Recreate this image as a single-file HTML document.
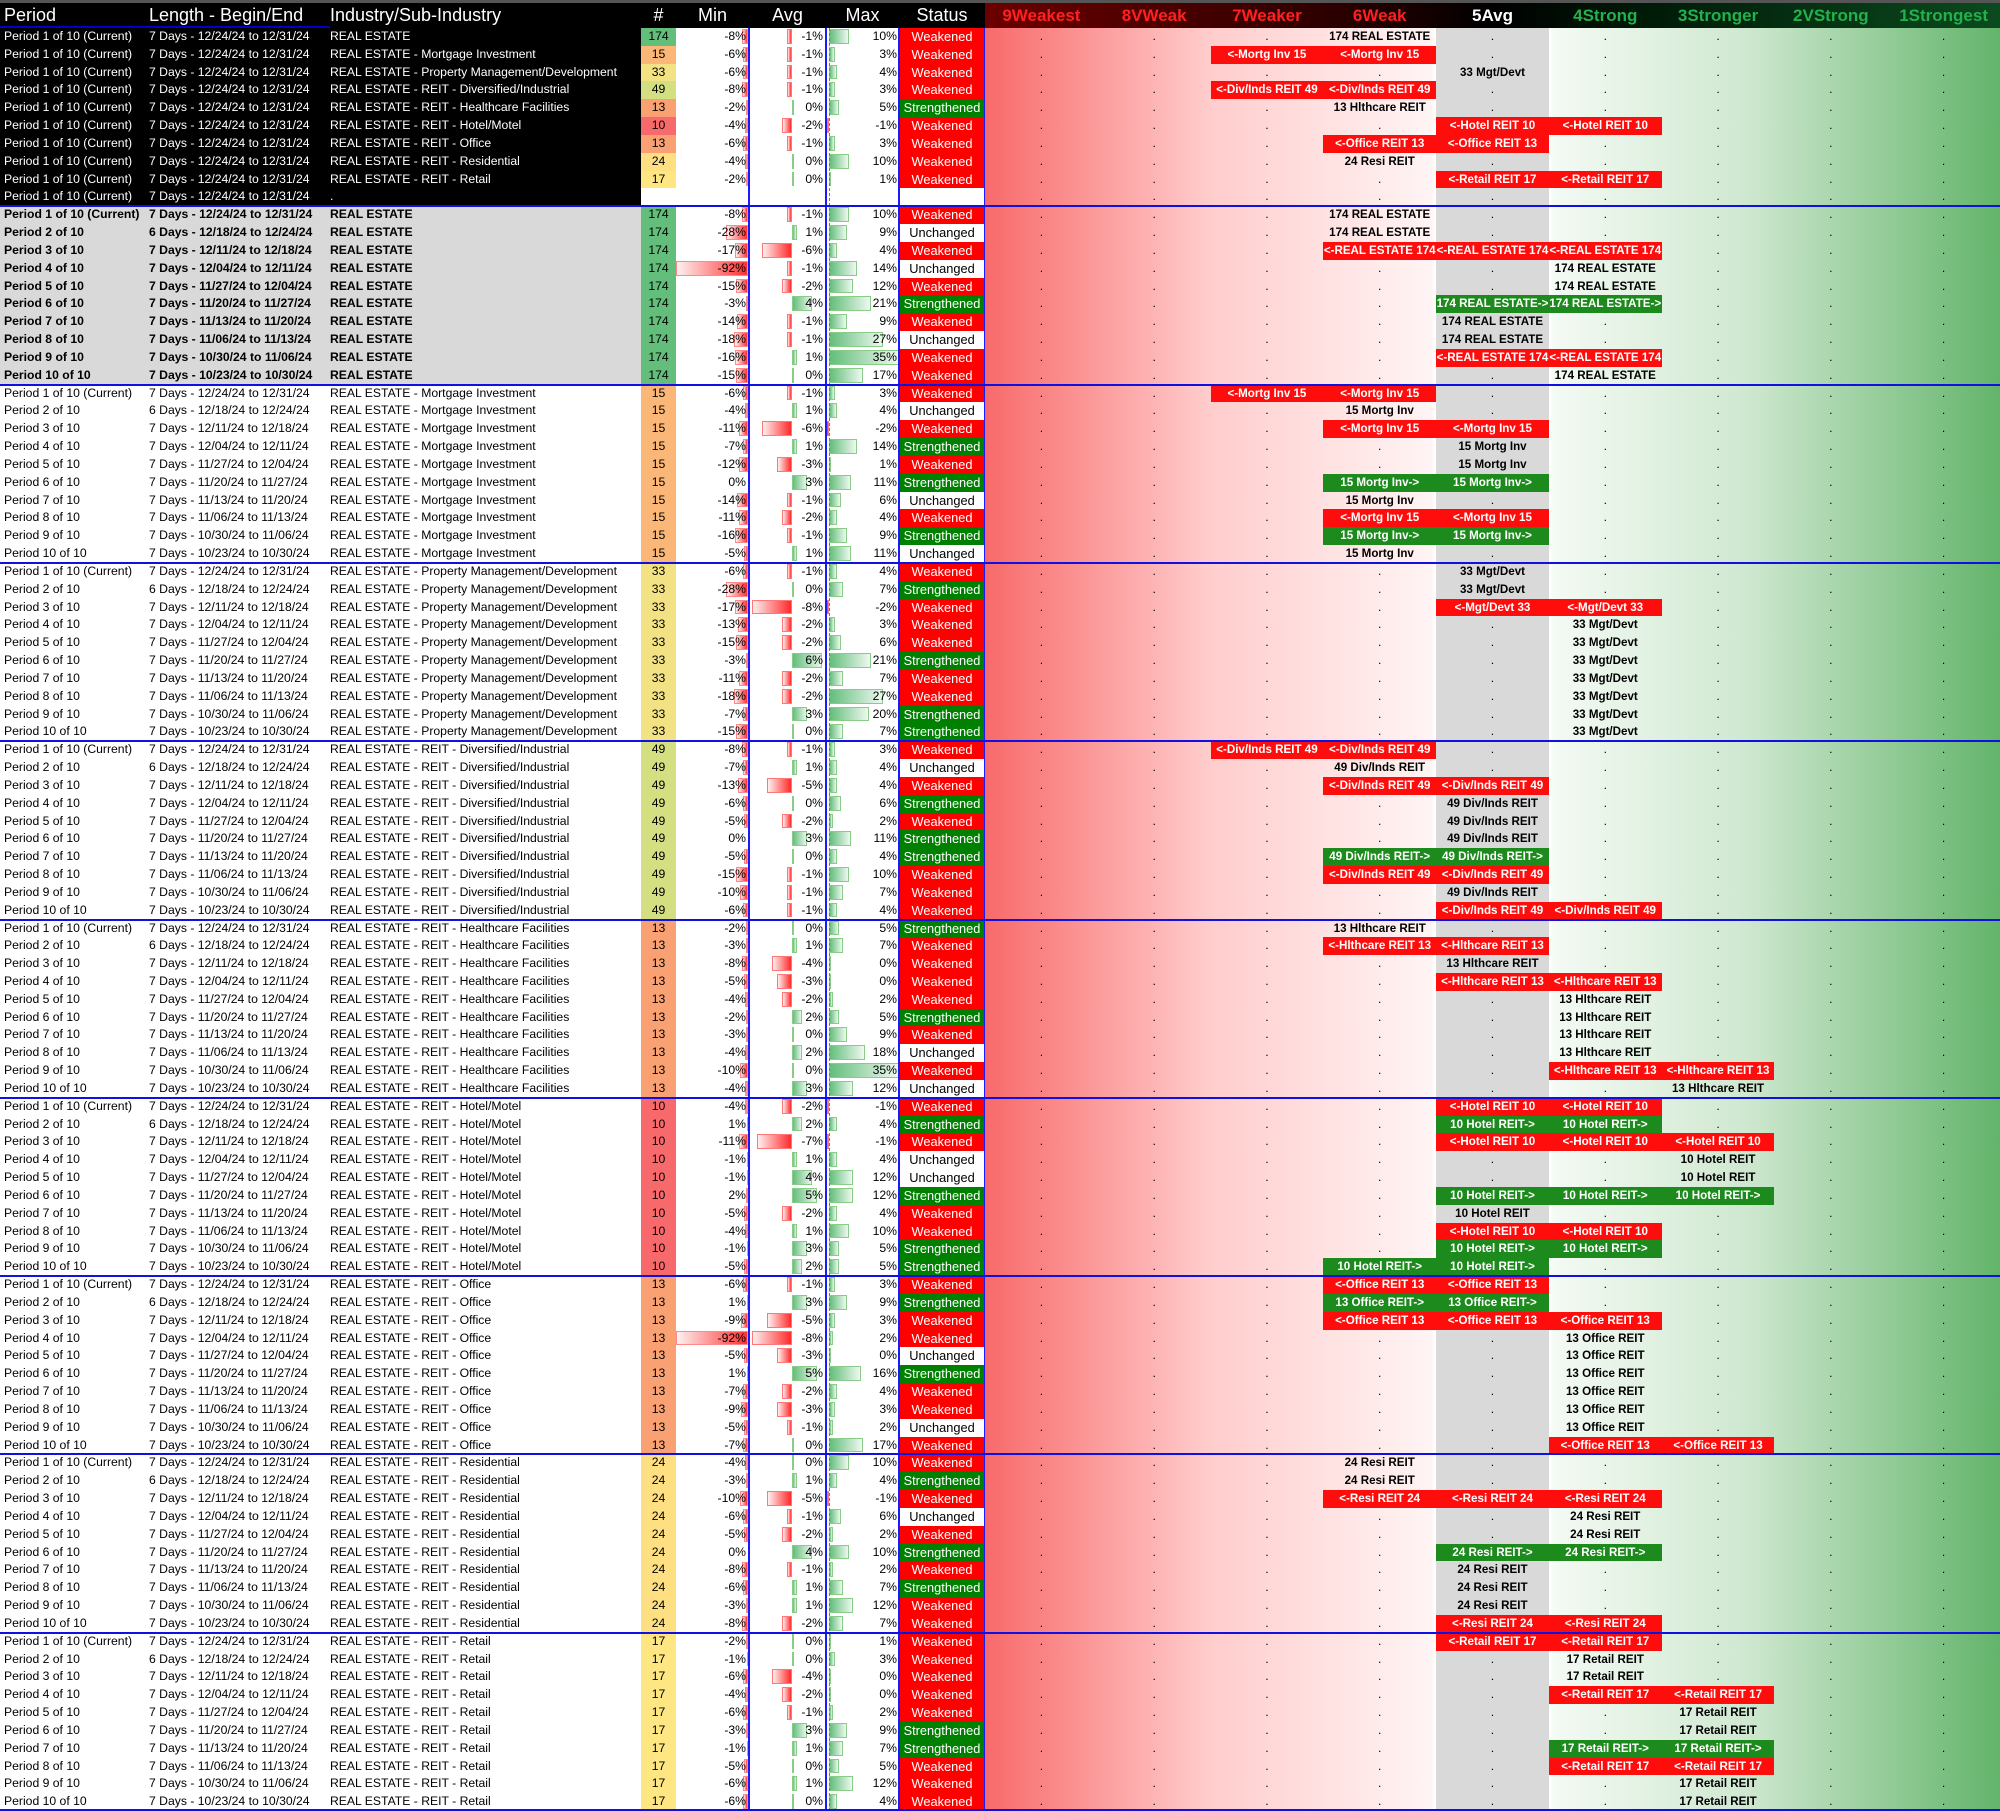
<!DOCTYPE html>
<html><head><meta charset="utf-8">
<style>
html,body{margin:0;padding:0;background:#000;}
#root{position:relative;width:2000px;height:1811px;overflow:hidden;background:#fff;font-family:"Liberation Sans",sans-serif;}
.c{position:absolute;font-size:12.2px;line-height:17.8px;white-space:nowrap;}
.h{position:absolute;top:3px;height:25px;line-height:25px;font-size:18px;color:#fff;white-space:nowrap;}
.rh{font-weight:bold;font-size:17px;text-align:center;}
</style></head>
<body>
<div id="root"></div>
<script>
const periodLabels=["Period 1 of 10 (Current)","Period 2 of 10","Period 3 of 10","Period 4 of 10","Period 5 of 10","Period 6 of 10","Period 7 of 10","Period 8 of 10","Period 9 of 10","Period 10 of 10"];
const lengthLabels=["7 Days - 12/24/24 to 12/31/24","6 Days - 12/18/24 to 12/24/24","7 Days - 12/11/24 to 12/18/24","7 Days - 12/04/24 to 12/11/24","7 Days - 11/27/24 to 12/04/24","7 Days - 11/20/24 to 11/27/24","7 Days - 11/13/24 to 11/20/24","7 Days - 11/06/24 to 11/13/24","7 Days - 10/30/24 to 11/06/24","7 Days - 10/23/24 to 10/30/24"];
const industries=["REAL ESTATE","REAL ESTATE - Mortgage Investment","REAL ESTATE - Property Management/Development","REAL ESTATE - REIT - Diversified/Industrial","REAL ESTATE - REIT - Healthcare Facilities","REAL ESTATE - REIT - Hotel/Motel","REAL ESTATE - REIT - Office","REAL ESTATE - REIT - Residential","REAL ESTATE - REIT - Retail"];
const counts=[174,15,33,49,13,10,13,24,17];
const countColors=["#63be7b","#fbb778","#f2e283","#d4df82","#f9a172","#f8696b","#f9a172","#fedf81","#fee683"];
const shortNames=["REAL ESTATE","Mortg Inv","Mgt/Devt","Div/Inds REIT","Hlthcare REIT","Hotel REIT","Office REIT","Resi REIT","Retail REIT"];
const ratingHeaders=["9Weakest","8VWeak","7Weaker","6Weak","5Avg","4Strong","3Stronger","2VStrong","1Strongest"];
const topMin=[-8,-6,-6,-8,-2,-4,-6,-4,-2];
const topAvg=[-1,-1,-1,-1,0,-2,-1,0,0];
const topMax=[10,3,4,3,5,-1,3,10,1];
const topStatus=["W","W","W","W","S","W","W","W","W"];
const topRating=["P3","R23","P4","R23","P3","R45","R34","P3","R45"];
const minVals=[
[-8,-28,-17,-92,-15,-3,-14,-18,-16,-15],
[-6,-4,-11,-7,-12,0,-14,-11,-16,-5],
[-6,-28,-17,-13,-15,-3,-11,-18,-7,-15],
[-8,-7,-13,-6,-5,0,-5,-15,-10,-6],
[-2,-3,-8,-5,-4,-2,-3,-4,-10,-4],
[-4,1,-11,-1,-1,2,-5,-4,-1,-5],
[-6,1,-9,-92,-5,1,-7,-9,-5,-7],
[-4,-3,-10,-6,-5,0,-8,-6,-3,-8],
[-2,-1,-6,-4,-6,-3,-1,-5,-6,-6]];
const avgVals=[
[-1,1,-6,-1,-2,4,-1,-1,1,0],
[-1,1,-6,1,-3,3,-1,-2,-1,1],
[-1,0,-8,-2,-2,6,-2,-2,3,0],
[-1,1,-5,0,-2,3,0,-1,-1,-1],
[0,1,-4,-3,-2,2,0,2,0,3],
[-2,2,-7,1,4,5,-2,1,3,2],
[-1,3,-5,-8,-3,5,-2,-3,-1,0],
[0,1,-5,-1,-2,4,-1,1,1,-2],
[0,0,-4,-2,-1,3,1,0,1,0]];
const maxVals=[
[10,9,4,14,12,21,9,27,35,17],
[3,4,-2,14,1,11,6,4,9,11],
[4,7,-2,3,6,21,7,27,20,7],
[3,4,4,6,2,11,4,10,7,4],
[5,7,0,0,2,5,9,18,35,12],
[-1,4,-1,4,12,12,4,10,5,5],
[3,9,3,2,0,16,4,3,2,17],
[10,4,-1,6,2,10,2,7,12,7],
[1,3,0,0,2,9,7,5,12,4]];
const statusVals=[
"WUWUWSWUWW","WUWSWSUWSU","WSWWWSWWSS","WUWSWSSWWW","SWWWWSWUWU","WSWUUSWWSS","WSWWUSWWUW","WSWUWSWSWW","WWWWWSSWWW"];
const ratingVals=[
["P3","P3","R345","P5","P5","G45","P4","P4","R45","P5"],
["R23","P3","R34","P4","P4","G34","P3","R34","G34","P3"],
["P4","P4","R45","P5","P5","P5","P5","P5","P5","P5"],
["R23","P3","R34","P4","P4","P4","G34","R34","P4","R45"],
["P3","R34","P4","R45","P5","P5","P5","P5","R56","P6"],
["R45","G45","R456","P6","P6","G456","P4","R45","G45","G34"],
["R34","G34","R345","P5","P5","P5","P5","P5","P5","R56"],
["P3","P3","R345","P5","P5","G45","P4","P4","P4","R45"],
["R45","P5","P5","R56","P6","P6","G56","R56","P6","P6"]];

const root=document.getElementById('root');
const RH=17.83, Y0=28;
const RX=985, RW=(2000-985)/9;
function el(tag,cls,style,text,parent){const e=document.createElement(tag);if(cls)e.className=cls;e.style.cssText=style;if(text!==undefined)e.textContent=text;(parent||root).appendChild(e);return e;}
function rowY(i){return Y0+i*RH;}

const bg=el('div','', `position:absolute;left:${RX}px;top:${Y0}px;width:${2000-RX}px;height:${1811-Y0}px;background:linear-gradient(90deg,#f86a6a 0%,#fcc 22%,#fff4f4 44%,#fff 44.4%,#fff 55.6%,#f4faf4 56%,#cfe8d0 75%,#63b46b 100%);`);


const band=el('div','',`position:absolute;left:${RX+4*RW}px;top:${Y0}px;width:${RW}px;height:${1811-Y0}px;background:#d9d9d9;`);


const hdr=el('div','',`position:absolute;left:0;top:0;width:2000px;height:28px;background:#000;border-top:3px solid #555;box-sizing:border-box;`);


const rhb=el('div','',`position:absolute;left:${RX}px;top:3px;width:${2000-RX}px;height:25px;background:linear-gradient(90deg,#6b0000 0%,#2a0000 35%,#000 50%,#001a08 65%,#0b4a1e 100%);`);


const heads=[["Period",4],["Length - Begin/End",149],["Industry/Sub-Industry",330]];
heads.forEach(h=>{const e=el('div','h',`left:${h[1]}px;`,h[0]);

});
[["#",641,676],["Min",676,749],["Avg",749,826],["Max",826,899],["Status",899,985]].forEach(h=>{const e=el('div','h',`left:${h[1]}px;width:${h[2]-h[1]}px;text-align:center;`,h[0]);

});
const hcol=["#ff2020","#ff2020","#ff2020","#ff2020","#fff","#22b14c","#22b14c","#22b14c","#22b14c"];
ratingHeaders.forEach((t,k)=>{const e=el('div','h rh',`left:${RX+k*RW}px;width:${RW}px;color:${hcol[k]};`,t);

});
el('div','',`position:absolute;left:0;top:26px;width:330px;height:2px;background:#0000c8;`);

function labelFor(g,kind){const n=counts[g],s=shortNames[g];
 if(kind==='R')return '<-'+s+' '+n; if(kind==='G')return n+' '+s+'->'; return n+' '+s;}

function drawRating(i,g,code){
 const y=rowY(i);
 let cols=[],kind='';
 if(code){kind=code[0];cols=code.slice(1).split('').map(Number);}
 for(let k=0;k<9;k++){
  const x=RX+k*RW;
  if(cols.includes(k)){
   const bgc=kind==='R'?'#ff0d0d':kind==='G'?'#1c8a1c':'transparent';
   const col=kind==='P'?'#000':'#fff';
   const e=el('div','c',`left:${x}px;top:${y}px;width:${RW}px;height:${RH}px;background:${bgc};color:${col};font-weight:bold;text-align:center;font-size:11.6px;`,labelFor(g,kind));
   
   
  } else {
   const e=el('div','c',`left:${x}px;top:${y}px;width:${RW}px;text-align:center;`,'.');
   
   
  }
 }
}
function drawMetrics(i,mn,av,mx,st){
 const y=rowY(i);
 const mw=Math.min(72,Math.abs(mn)*72/92);
 const mb=el('div','',`position:absolute;left:${748-mw}px;top:${y+1}px;width:${mw}px;height:${RH-3}px;background:linear-gradient(90deg,#fff0f0,#ff3030);border:1px solid #f88;box-sizing:border-box;`);
 
 
 const mt=el('div','c',`left:676px;top:${y}px;width:70px;text-align:right;`,mn+'%');
 
 
 const aw=Math.abs(av)*5;
 const ab=el('div','',`position:absolute;left:${av<0?792-aw:792}px;top:${y+1}px;width:${Math.max(aw,1.5)}px;height:${RH-3}px;background:${av<0?'linear-gradient(90deg,#fff0f0,#ff2a2a)':'linear-gradient(90deg,#63be7b,#e8f5ea)'};border:1px solid ${av<0?'#f77':'#8c8'};box-sizing:border-box;`);
 
 
 const at=el('div','c',`left:749px;top:${y}px;width:74px;text-align:right;`,av+'%');
 
 
 const xw=Math.abs(mx)*2;
 const xb=el('div','',`position:absolute;left:${mx<0?829-xw:829}px;top:${y+1}px;width:${Math.max(xw,1.5)}px;height:${RH-3}px;background:${mx<0?'#ff4040':'linear-gradient(90deg,#63be7b,#eef8f0)'};border:1px solid ${mx<0?'#f77':'#8c8'};box-sizing:border-box;`);
 
 
 const xt=el('div','c',`left:826px;top:${y}px;width:71px;text-align:right;`,mx+'%');
 
 
 const txt=st==='W'?'Weakened':st==='S'?'Strengthened':'Unchanged';
 const sb=el('div','c',`left:899px;top:${y}px;width:86px;height:${RH}px;text-align:center;font-size:12.8px;background:${st==='W'?'#ff0000':st==='S'?'#008000':'#fff'};color:${st==='U'?'#000':'#fff'};`,txt);
 
 
}
function drawLeft(i,per,len,ind,g,bgc,col,bold){
 const y=rowY(i);
 const r=el('div','',`position:absolute;left:0;top:${y}px;width:641px;height:${RH}px;background:${bgc};`);
 
 
 const st=`top:${y}px;color:${col};${bold?'font-weight:bold;':''}`;
 const a=el('div','c',`left:4px;${st}`,per);  
 const b=el('div','c',`left:149px;${st}`,len);  
 const c=el('div','c',`left:330px;${st}`,ind);  
 if(g>=0){const n=el('div','c',`left:641px;top:${y}px;width:35px;height:${RH}px;text-align:center;background:${countColors[g]};`,counts[g]);
   }
}
for(let g=0;g<9;g++){
 drawLeft(g,periodLabels[0],lengthLabels[0],industries[g],g,'#000','#fff',false);
 drawMetrics(g,topMin[g],topAvg[g],topMax[g],topStatus[g]);
 drawRating(g,g,topRating[g]);
}
drawLeft(9,periodLabels[0],lengthLabels[0],'.',-1,'#000','#fff',false);
drawRating(9,0,null);
for(let g=0;g<9;g++){
 for(let p=0;p<10;p++){
  const i=10+g*10+p;
  const grey=g===0;
  drawLeft(i,periodLabels[p],lengthLabels[p],industries[g],g,grey?'#d9d9d9':'#fff','#000',grey);
  drawMetrics(i,minVals[g][p],avgVals[g][p],maxVals[g][p],statusVals[g][p]);
  drawRating(i,g,ratingVals[g][p]);
 }
}
[749,826,899].forEach(x=>{const v=el('div','',`position:absolute;left:${x-1}px;top:28px;width:2px;height:1783px;background:#1a1aff;`);
  });
el('div','',`position:absolute;left:829px;top:28px;width:0;height:1783px;border-left:1px dashed #777;`);
el('div','',`position:absolute;left:984px;top:28px;width:1px;height:1783px;background:#1a1aff;`);
for(let k=1;k<=10;k++){const y=rowY(k*10);
 const h=el('div','',`position:absolute;left:0;top:${Math.min(y-1,1809)}px;width:2000px;height:2px;background:#1010e0;`);
  }
</script>
</body></html>
